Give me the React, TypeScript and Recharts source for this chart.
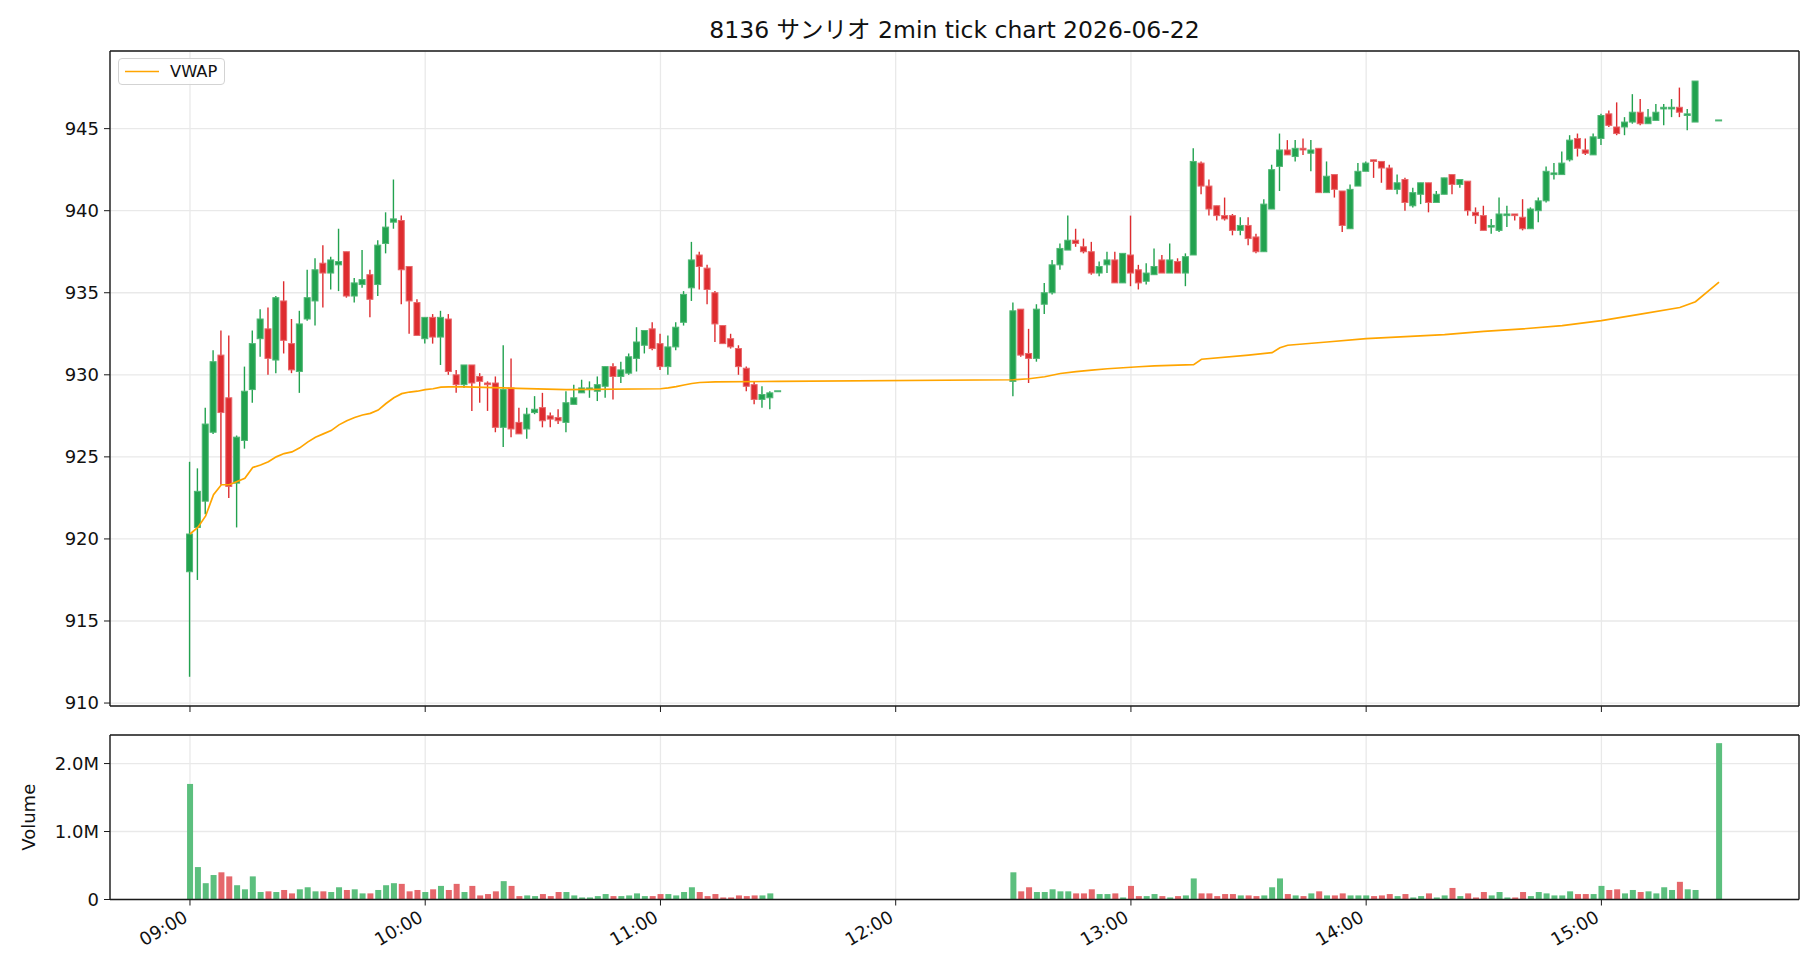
import React from 'react';
import { ComposedChart, Bar, Line, XAxis, YAxis, CartesianGrid, Legend } from 'recharts';

// ---------- data ----------
const times: string[] = [
  '09:00','09:02','09:04','09:06','09:08','09:10','09:12','09:14','09:16','09:18',
  '09:20','09:22','09:24','09:26','09:28','09:30','09:32','09:34','09:36','09:38',
  '09:40','09:42','09:44','09:46','09:48','09:50','09:52','09:54','09:56','09:58',
  '10:00','10:02','10:04','10:06','10:08','10:10','10:12','10:14','10:16','10:18',
  '10:20','10:22','10:24','10:26','10:28','10:30','10:32','10:34','10:36','10:38',
  '10:40','10:42','10:44','10:46','10:48','10:50','10:52','10:54','10:56','10:58',
  '11:00','11:02','11:04','11:06','11:08','11:10','11:12','11:14','11:16','11:18',
  '11:20','11:22','11:24','11:26','11:28','11:30',
  '12:30','12:32','12:34','12:36','12:38','12:40','12:42','12:44','12:46','12:48',
  '12:50','12:52','12:54','12:56','12:58','13:00','13:02','13:04','13:06','13:08',
  '13:10','13:12','13:14','13:16','13:18','13:20','13:22','13:24','13:26','13:28',
  '13:30','13:32','13:34','13:36','13:38','13:40','13:42','13:44','13:46','13:48',
  '13:50','13:52','13:54','13:56','13:58','14:00','14:02','14:04','14:06','14:08',
  '14:10','14:12','14:14','14:16','14:18','14:20','14:22','14:24','14:26','14:28',
  '14:30','14:32','14:34','14:36','14:38','14:40','14:42','14:44','14:46','14:48',
  '14:50','14:52','14:54','14:56','14:58','15:00','15:02','15:04','15:06','15:08',
  '15:10','15:12','15:14','15:16','15:18','15:20','15:22','15:24',
  '15:30',
];

const opens: number[] = [
  918.0, 920.7, 922.3, 926.5, 931.2, 928.6, 923.4, 926.0, 929.1, 932.2,
  932.8, 930.9, 934.5, 931.9, 930.2, 933.4, 934.5, 936.8, 936.2, 936.7,
  937.5, 934.8, 935.5, 936.1, 935.5, 938.0, 939.3, 939.4, 936.6, 934.4,
  932.2, 933.5, 932.3, 933.4, 930.0, 929.4, 930.6, 929.9, 929.5, 929.5,
  926.8, 929.2, 927.1, 926.7, 927.7, 928.0, 927.5, 927.4, 927.1, 928.2,
  928.9, 929.1, 929.0, 929.3, 930.5, 929.9, 930.1, 931.0, 931.8, 932.8,
  931.9, 930.5, 931.7, 933.2, 935.3, 937.3, 936.5, 935.0, 933.0, 932.2,
  931.6, 930.4, 929.4, 928.5, 928.6, 929.0,
  929.6, 934.0, 931.3, 931.0, 934.3, 935.0, 936.7, 937.6, 938.2, 937.8,
  937.5, 936.2, 936.7, 937.0, 935.6, 937.3, 936.4, 935.7, 936.1, 937.0,
  936.2, 936.9, 936.2, 937.3, 942.9, 941.5, 940.3, 939.7, 939.7, 938.8,
  939.1, 938.4, 937.5, 940.1, 942.7, 943.7, 943.3, 943.8, 943.5, 943.8,
  941.1, 942.2, 941.2, 938.9, 941.5, 942.4, 943.1, 943.0, 942.6, 941.3,
  941.9, 940.3, 941.0, 941.7, 940.5, 941.0, 942.2, 941.6, 941.8, 939.9,
  939.7, 939.0, 938.8, 939.7, 939.8, 939.6, 938.9, 940.0, 940.6, 942.2,
  942.2, 943.1, 944.4, 943.7, 943.4, 944.4, 945.9, 945.1, 945.1, 945.4,
  946.0, 945.3, 945.5, 946.2, 946.2, 946.3, 945.8, 945.4,
  945.5,
];

const highs: number[] = [
  924.7, 924.3, 928.0, 931.5, 932.7, 932.4, 926.3, 930.5, 932.7, 934.0,
  934.1, 934.8, 935.7, 933.4, 933.9, 936.4, 937.1, 937.9, 937.2, 938.9,
  937.5, 935.9, 937.6, 936.4, 938.2, 939.9, 941.9, 939.7, 936.6, 934.6,
  933.5, 933.7, 933.9, 933.7, 930.3, 930.6, 930.6, 930.1, 929.6, 929.9,
  931.8, 931.0, 928.0, 928.0, 928.7, 928.9, 927.7, 927.9, 929.0, 929.4,
  929.7, 929.6, 929.9, 930.5, 930.7, 930.8, 931.3, 932.9, 932.7, 933.2,
  932.5, 932.4, 933.2, 935.1, 938.1, 937.5, 936.7, 935.1, 933.0, 932.5,
  931.8, 930.5, 929.6, 929.3, 929.0, 929.0,
  934.4, 934.0, 932.8, 934.3, 935.6, 937.0, 938.0, 939.7, 938.9, 938.3,
  938.1, 936.9, 937.5, 937.5, 937.4, 939.7, 936.7, 936.8, 937.7, 937.3,
  938.0, 937.1, 937.4, 943.8, 943.0, 941.9, 940.3, 940.8, 939.8, 939.6,
  939.6, 938.6, 940.7, 942.8, 944.7, 944.3, 944.3, 944.4, 944.3, 943.8,
  943.0, 942.2, 941.2, 941.6, 942.9, 943.0, 943.1, 943.0, 942.8, 942.2,
  942.0, 941.4, 941.7, 941.7, 941.2, 942.0, 942.2, 941.9, 941.8, 940.2,
  940.3, 939.5, 940.8, 940.3, 939.8, 940.7, 940.2, 940.8, 942.7, 942.9,
  943.6, 944.6, 944.7, 944.4, 944.7, 945.9, 946.1, 946.6, 945.7, 947.1,
  946.8, 946.2, 946.5, 946.5, 946.8, 947.5, 946.2, 947.9,
  945.5,
];

const lows: number[] = [
  911.6, 917.5, 921.5, 926.4, 923.3, 922.5, 920.7, 925.5, 928.3, 931.1,
  930.0, 930.1, 931.3, 930.1, 928.9, 933.3, 933.0, 934.1, 935.2, 935.1,
  934.7, 934.4, 935.3, 933.5, 934.8, 937.4, 938.9, 934.3, 932.5, 932.4,
  931.9, 931.9, 930.6, 930.0, 928.9, 929.2, 927.8, 928.3, 927.8, 926.5,
  925.6, 926.2, 926.4, 926.1, 927.6, 926.8, 926.8, 927.0, 926.5, 928.2,
  928.9, 928.6, 928.4, 928.6, 928.5, 929.5, 930.0, 930.2, 931.3, 931.5,
  930.3, 930.0, 931.5, 933.0, 934.5, 935.2, 934.3, 932.0, 931.9, 931.6,
  930.0, 929.0, 928.2, 928.0, 927.9, 929.0,
  928.7, 931.1, 929.5, 930.8, 933.7, 934.9, 936.4, 937.6, 937.8, 937.4,
  936.1, 936.0, 936.2, 935.6, 935.6, 935.4, 935.2, 935.5, 936.1, 936.2,
  936.2, 936.2, 935.4, 937.3, 941.0, 939.7, 939.4, 939.4, 938.5, 938.5,
  937.9, 937.4, 937.5, 940.1, 941.2, 943.4, 943.0, 943.4, 942.4, 941.1,
  941.1, 940.8, 938.7, 938.9, 941.5, 942.4, 942.0, 941.7, 941.3, 941.0,
  940.0, 940.2, 940.4, 939.9, 940.5, 941.0, 941.0, 941.4, 939.7, 939.2,
  938.8, 938.6, 938.7, 939.0, 939.4, 938.8, 938.9, 939.3, 940.5, 941.9,
  942.2, 943.0, 943.3, 943.4, 943.4, 944.0, 945.1, 944.6, 944.6, 945.3,
  945.2, 945.3, 945.5, 945.2, 945.7, 945.7, 944.9, 945.4,
  945.5,
];

const closes: number[] = [
  920.3, 922.9, 927.0, 930.8, 927.7, 923.2, 926.2, 929.0, 931.9, 933.4,
  931.0, 934.7, 932.1, 930.3, 933.1, 934.7, 936.4, 936.2, 937.0, 936.9,
  934.8, 935.6, 935.8, 934.6, 937.9, 939.0, 939.5, 936.4, 934.5, 932.4,
  933.5, 932.3, 933.5, 930.2, 929.4, 930.6, 929.5, 929.6, 929.4, 926.8,
  929.1, 926.7, 926.4, 927.6, 927.9, 927.2, 927.3, 927.2, 928.3, 928.6,
  929.2, 929.2, 929.4, 930.5, 929.9, 930.3, 931.1, 932.0, 932.7, 931.6,
  930.5, 931.7, 932.9, 934.9, 937.0, 936.6, 935.2, 933.1, 931.9, 931.7,
  930.5, 929.3, 928.5, 928.8, 928.9, 929.0,
  933.9, 931.2, 931.0, 934.0, 935.0, 936.7, 937.7, 938.2, 938.0, 937.5,
  936.2, 936.6, 937.0, 935.6, 937.4, 936.2, 935.6, 936.2, 936.6, 936.2,
  937.0, 936.2, 937.2, 943.0, 941.5, 940.1, 939.7, 939.5, 938.8, 939.1,
  938.3, 937.5, 940.4, 942.5, 943.7, 943.4, 943.8, 943.7, 943.7, 941.1,
  942.1, 941.3, 939.1, 941.3, 942.4, 942.9, 943.0, 942.6, 941.3, 941.7,
  940.5, 941.1, 941.7, 940.5, 941.0, 942.0, 941.6, 941.9, 940.0, 939.7,
  938.8, 939.1, 939.8, 939.8, 939.7, 938.9, 940.1, 940.6, 942.4, 942.3,
  942.9, 944.3, 943.8, 943.5, 944.5, 945.8, 945.2, 944.7, 945.4, 946.0,
  945.3, 945.7, 946.0, 946.3, 946.3, 946.0, 945.9, 947.9,
  945.5,
];

const volumes: number[] = [
  1700000, 477000, 240000, 360000, 400000, 340000, 210000, 150000, 340000, 110000,
  120000, 110000, 140000, 90000, 150000, 180000, 120000, 120000, 110000, 180000,
  140000, 150000, 90000, 90000, 140000, 210000, 240000, 230000, 120000, 140000,
  110000, 150000, 200000, 140000, 230000, 110000, 200000, 60000, 80000, 120000,
  270000, 200000, 50000, 60000, 50000, 80000, 50000, 110000, 110000, 60000,
  30000, 30000, 50000, 80000, 50000, 50000, 60000, 90000, 50000, 50000,
  80000, 80000, 60000, 110000, 180000, 110000, 50000, 80000, 30000, 30000,
  60000, 50000, 60000, 60000, 90000, 0,
  400000, 120000, 180000, 110000, 110000, 150000, 120000, 120000, 90000, 90000,
  150000, 80000, 80000, 90000, 30000, 200000, 50000, 50000, 80000, 50000,
  30000, 50000, 60000, 310000, 90000, 90000, 50000, 80000, 80000, 60000,
  60000, 50000, 60000, 180000, 310000, 80000, 60000, 50000, 90000, 120000,
  60000, 60000, 90000, 60000, 60000, 60000, 50000, 60000, 80000, 50000,
  80000, 30000, 50000, 90000, 30000, 60000, 170000, 50000, 90000, 30000,
  110000, 60000, 110000, 30000, 30000, 110000, 50000, 110000, 90000, 60000,
  60000, 120000, 80000, 80000, 80000, 200000, 140000, 150000, 90000, 140000,
  110000, 120000, 90000, 180000, 140000, 260000, 150000, 140000,
  2300000,
];

const vwapTimes: string[] = [
  '09:00','09:02','09:04','09:06','09:08','09:10','09:12','09:14','09:16','09:18',
  '09:20','09:22','09:24','09:26','09:28','09:30','09:32','09:34','09:36','09:38',
  '09:40','09:42','09:44','09:46','09:48','09:50','09:52','09:54','09:56','09:58',
  '10:00','10:02','10:04','10:06','10:10','10:20','10:36','11:00','11:02','11:04',
  '11:06','11:08','11:10','11:14','11:30',
  '12:30','12:34','12:38','12:42','12:46','12:50','12:54','12:58','13:02','13:06',
  '13:16','13:18','13:30','13:36','13:38','13:40','13:50','14:00','14:20','14:30',
  '14:40','14:50','15:00','15:10','15:20','15:24','15:30',
];
const vwapValues: number[] = [
  920.3, 920.7, 921.4, 922.7, 923.3, 923.3, 923.5, 923.7, 924.35, 924.5,
  924.7, 925.0, 925.2, 925.3, 925.55, 925.9, 926.2, 926.4, 926.6, 926.95,
  927.2, 927.4, 927.55, 927.65, 927.85, 928.25, 928.6, 928.85, 928.95, 929.0,
  929.1, 929.15, 929.25, 929.27, 929.27, 929.2, 929.1, 929.15, 929.2, 929.28,
  929.38, 929.47, 929.53, 929.57, 929.6,
  929.7, 929.76, 929.88, 930.08, 930.19, 930.29, 930.37, 930.43, 930.49, 930.55,
  930.62, 930.95, 931.2, 931.35, 931.65, 931.8, 932.0, 932.2, 932.45, 932.65,
  932.8, 933.0, 933.3, 933.7, 934.1, 934.45, 935.65,
];

const hourTicks: number[] = [0, 60, 120, 180, 240, 300, 360];
const hourLabels: string[] = ['09:00', '10:00', '11:00', '12:00', '13:00', '14:00', '15:00'];
const priceTicks: number[] = [910, 915, 920, 925, 930, 935, 940, 945];
const volumeTicks: number[] = [0, 1000000, 2000000];
const volumeTickLabels: string[] = ['0', '1.0M', '2.0M'];
const TITLE = '8136 サンリオ 2min tick chart 2026-06-22';

// ---------- styling ----------
const FONT = "'DejaVu Sans', 'Noto Sans CJK JP', sans-serif";
const GREEN = '#22a24f';
const GREEN_EDGE = '#4fb774';
const RED = '#de2c2f';
const RED_EDGE = '#e7676a';
const VOL_GREEN = '#5cbf7e';
const VOL_RED = '#e5676b';
const VWAP_COLOR = '#ffa500';
const GRID = '#e9e9e9';
const AXIS = '#1a1a1a';
const TEXT = '#111';
const X_DOMAIN: [number, number] = [-20.4, 410.4];

const toMinutes = (s: string) => {
  const [hh, mm] = s.split(':').map(Number);
  return (hh - 9) * 60 + mm;
};

const vwapByMin = new Map<number, number>(vwapTimes.map((s, i) => [toMinutes(s), vwapValues[i]]));

const rows = times.map((s, i) => {
  const t = toMinutes(s);
  return {
    t,
    o: opens[i],
    h: highs[i],
    l: lows[i],
    c: closes[i],
    range: [lows[i], highs[i]],
    vol: volumes[i],
    vwap: vwapByMin.has(t) ? vwapByMin.get(t) : null,
  };
});

const Candle = (props: any) => {
  const { x, y, width, height, payload } = props;
  if (!payload || payload.o == null || x == null || y == null) return null;
  const { o, h, l, c } = payload;
  const up = c >= o;
  const color = up ? GREEN : RED;
  const edge = up ? GREEN_EDGE : RED_EDGE;
  const cx = x + width / 2;
  const span = h - l;
  if (!(span > 0) || !(height > 0)) {
    return <line x1={x} x2={x + width} y1={y} y2={y} stroke={edge} strokeWidth={2} />;
  }
  const k = height / span;
  const yO = y + (h - o) * k;
  const yC = y + (h - c) * k;
  const top = Math.min(yO, yC);
  const bot = Math.max(yO, yC);
  return (
    <g>
      <line x1={cx} x2={cx} y1={y} y2={y + height} stroke={color} strokeWidth={1.4} />
      <rect x={x + 0.5} y={top} width={width - 1} height={Math.max(bot - top, 1.2)} fill={color} stroke={edge} strokeWidth={1} />
    </g>
  );
};

const VolBar = (props: any) => {
  const { x, y, width, height, payload } = props;
  if (!payload || !(height > 0)) return null;
  return <rect x={x} y={y} width={width} height={height} fill={payload.c >= payload.o ? VOL_GREEN : VOL_RED} />;
};

const EmptyTick = () => <g />;

const RotTick = (props: any) => {
  const { x, y, payload } = props;
  const idx = hourTicks.indexOf(payload.value);
  const label = idx >= 0 ? hourLabels[idx] : '';
  const ax = x - 8;
  return (
    <text x={ax} y={y} dy="0.78em" transform={`rotate(-30, ${ax}, ${y})`} textAnchor="end" fontSize={18} fill={TEXT} fontFamily={FONT}>
      {label}
    </text>
  );
};

const VwapLegend = (props: any) => {
  const item = props && props.payload ? props.payload.find((p: any) => p.value === 'VWAP') : null;
  const color = item ? item.color : VWAP_COLOR;
  return (
    <div style={{ display: 'flex', alignItems: 'center', width: 107, height: 27, boxSizing: 'border-box', border: '1px solid #d3d3d3', borderRadius: 4, background: 'rgba(255,255,255,0.85)', fontSize: 16.3, color: TEXT, fontFamily: FONT }}>
      <svg width={51} height={25} style={{ display: 'block' }}>
        <line x1={6} x2={40} y1={12.5} y2={12.5} stroke={color} strokeWidth={1.7} />
      </svg>
      <span style={{ lineHeight: '25px' }}>VWAP</span>
    </div>
  );
};

const axisLineStyle = { stroke: AXIS, strokeWidth: 1.4 };

export default function App() {
  return (
    <div style={{ position: 'absolute', left: 0, top: 0, width: 1820, height: 980, background: '#fff', fontFamily: FONT, overflow: 'hidden' }}>
      <div style={{ position: 'absolute', left: 110, width: 1689, top: 15, textAlign: 'center', fontSize: 23.5, lineHeight: '30px', color: TEXT }}>
        {TITLE}
      </div>

      <div style={{ position: 'absolute', left: 0, top: 0 }}>
        <ComposedChart width={1820} height={720} data={rows} margin={{ top: 50, right: 20, bottom: 0, left: 0 }}>
          <CartesianGrid stroke={GRID} strokeWidth={1.3} />
          <XAxis dataKey="t" type="number" domain={X_DOMAIN} ticks={hourTicks} allowDataOverflow height={14}
            tick={EmptyTick} tickSize={6} tickLine={{ stroke: AXIS }} axisLine={axisLineStyle} />
          <XAxis xAxisId="top" orientation="top" dataKey="t" type="number" domain={X_DOMAIN} allowDataOverflow height={1}
            tick={false} tickLine={false} axisLine={axisLineStyle} />
          <YAxis type="number" domain={[909.82, 949.73]} ticks={priceTicks} allowDataOverflow width={110}
            tickSize={6} tickMargin={5} tick={{ fontSize: 18, fill: TEXT }} tickLine={{ stroke: AXIS }} axisLine={axisLineStyle} />
          <YAxis yAxisId="right" orientation="right" width={1} tick={false} tickLine={false} axisLine={axisLineStyle} />
          <Bar dataKey="range" barSize={7} shape={Candle} isAnimationActive={false} legendType="none" />
          <Line dataKey="vwap" name="VWAP" type="linear" stroke={VWAP_COLOR} strokeWidth={1.7} dot={false} activeDot={false}
            connectNulls isAnimationActive={false} />
          <Legend layout="horizontal" verticalAlign="middle" align="center" content={VwapLegend}
            wrapperStyle={{ left: 118, top: 58, width: 'auto', height: 'auto' }} />
        </ComposedChart>
      </div>

      <div style={{ position: 'absolute', left: 0, top: 700 }}>
        <ComposedChart width={1820} height={280} data={rows} margin={{ top: 34, right: 20, bottom: 0, left: 0 }}>
          <CartesianGrid stroke={GRID} strokeWidth={1.3} />
          <XAxis dataKey="t" type="number" domain={X_DOMAIN} ticks={hourTicks} allowDataOverflow height={80.5}
            tick={RotTick} tickSize={6} tickMargin={3} tickLine={{ stroke: AXIS }} axisLine={axisLineStyle} />
          <XAxis xAxisId="top" orientation="top" dataKey="t" type="number" domain={X_DOMAIN} allowDataOverflow height={1}
            tick={false} tickLine={false} axisLine={axisLineStyle} />
          <YAxis type="number" domain={[0, 2420000]} ticks={volumeTicks} allowDataOverflow width={110}
            tickSize={6} tickMargin={5} tick={{ fontSize: 18, fill: TEXT }} tickLine={{ stroke: AXIS }} axisLine={axisLineStyle}
            tickFormatter={(v: number) => volumeTickLabels[volumeTicks.indexOf(v)] ?? ''}
            label={{ value: 'Volume', angle: -90, position: 'insideLeft', offset: 29, style: { textAnchor: 'middle', fontSize: 18, fill: TEXT } }} />
          <YAxis yAxisId="right" orientation="right" width={1} tick={false} tickLine={false} axisLine={axisLineStyle} />
          <Bar dataKey="vol" barSize={6} shape={VolBar} isAnimationActive={false} />
        </ComposedChart>
      </div>
    </div>
  );
}
